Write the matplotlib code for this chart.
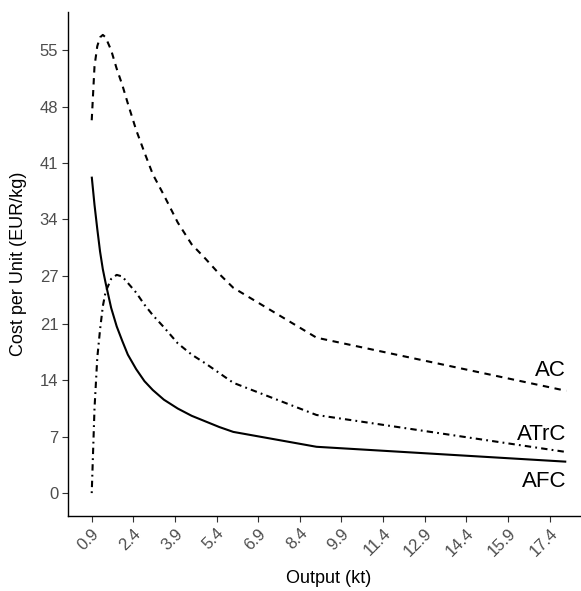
import matplotlib
matplotlib.use("Agg")
import matplotlib.pyplot as plt

plt.rcParams["font.family"] = ["Liberation Sans", "DejaVu Sans"]
plt.rcParams["lines.scale_dashes"] = False

# output in kt
output = [0.9, 1.0, 1.1, 1.2, 1.3, 1.4, 1.6, 1.8, 2.0, 2.2, 2.5, 2.8, 3.1,
          3.5, 4.0, 4.5, 5.0, 5.5, 6.0, 9.0, 18.0]
# cost per unit, EUR/kg
ac = [46.3, 53.0, 55.5, 56.6, 56.9, 56.6, 55.0, 52.7, 50.7, 48.4, 45.1, 42.3,
      39.6, 37.0, 33.6, 30.9, 29.1, 27.2, 25.5, 19.3, 12.7]
atrc = [0.0, 10.5, 16.8, 20.3, 23.2, 25.0, 26.6, 27.1, 26.9, 26.1, 24.9, 23.4,
        22.1, 20.6, 18.6, 17.2, 16.1, 14.9, 13.7, 9.7, 5.1]
afc = [39.3, 35.8, 32.8, 30.0, 27.8, 26.1, 23.0, 20.7, 18.9, 17.2, 15.4, 13.9,
       12.8, 11.6, 10.5, 9.6, 8.9, 8.2, 7.6, 5.75, 3.9]

x_ticks = [0.9 + 1.5 * i for i in range(12)]
y_ticks = [0, 7, 14, 21, 27, 34, 41, 48, 55]

labels = ["AC", "ATrC", "AFC"]
label_y = [15.2, 7.3, 1.4]

W, H = 581, 591
fig = plt.figure(figsize=(W / 100, H / 100), dpi=100)
# panel runs a little past the right edge, like the cropped original
ax = fig.add_axes([68 / W, 75 / H, 522 / W, 504 / H])

lw = 1.5
ax.plot(output, ac, color="black", lw=lw, dashes=(4.6, 4.0),
        dash_capstyle="butt")
ax.plot(output, atrc, color="black", lw=lw, dashes=(1.3, 3.0, 4.6, 3.0),
        dash_capstyle="butt")
ax.plot(output, afc, color="black", lw=lw, solid_capstyle="butt")

for lab, y in zip(labels, label_y):
    ax.text(18.0, y, lab, ha="right", va="center", fontsize=16)

ax.set_xlim(0.045, 18.855)
ax.set_ylim(-2.845, 59.745)
ax.set_xticks(x_ticks)
ax.set_xticklabels([f"{v:.1f}" for v in x_ticks], rotation=45, ha="right",
                   va="top", rotation_mode="anchor")
ax.set_yticks(y_ticks)
ax.set_yticklabels([str(v) for v in y_ticks])
ax.tick_params(axis="both", length=4, width=0.8, color="#333333",
               labelcolor="#4D4D4D", labelsize=12, pad=3)

for side in ["top", "right"]:
    ax.spines[side].set_visible(False)
for side in ["left", "bottom"]:
    ax.spines[side].set_linewidth(1.0)
    ax.spines[side].set_color("black")

ax.set_xlabel("Output (kt)", fontsize=13)
ax.set_ylabel("Cost per Unit (EUR/kg)", fontsize=13)
ax.xaxis.set_label_coords(0.5, -0.108)
ax.yaxis.set_label_coords(-0.079, 0.5)

fig.savefig("out.png", dpi=100)
